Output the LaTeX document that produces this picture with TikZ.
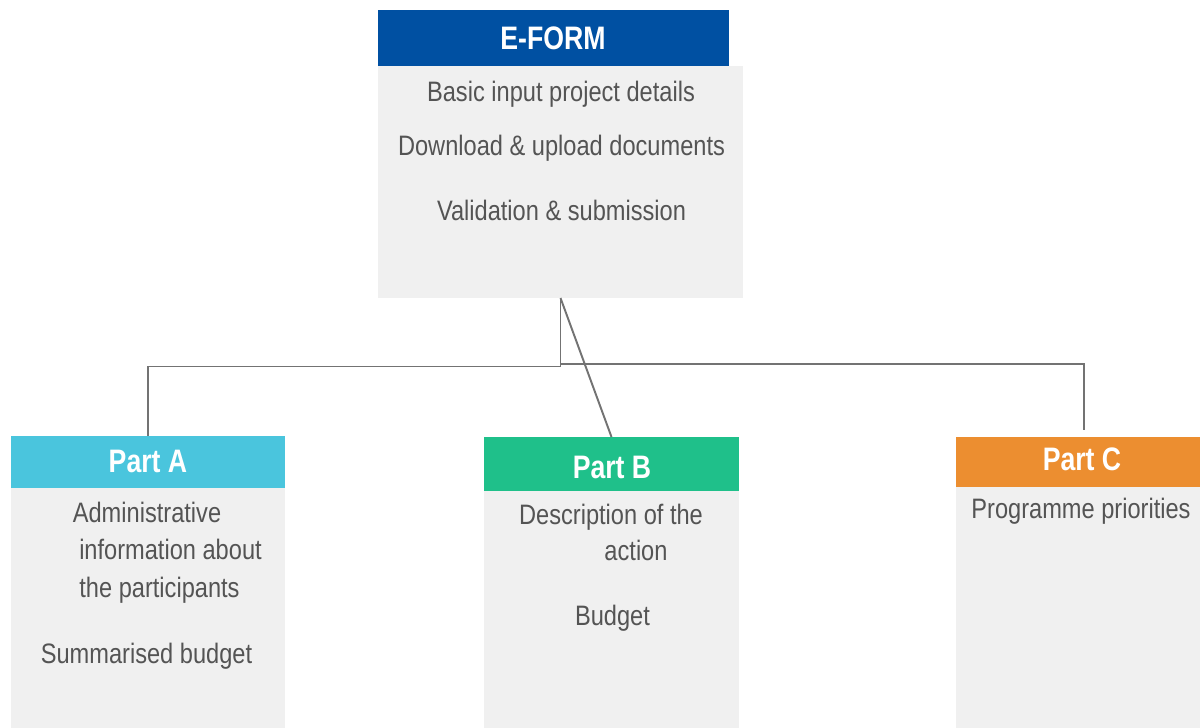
\documentclass[tikz,border=0pt]{standalone}
\usepackage{fontspec}
\setmainfont{Liberation Sans}
\newfontfamily\bodyfont[FakeStretch=0.84]{Liberation Sans}
\newfontfamily\headfont[FakeStretch=0.82]{Liberation Sans Bold}
\usetikzlibrary{calc}

\definecolor{eblue}{RGB}{0,80,162}
\definecolor{acyan}{RGB}{74,197,221}
\definecolor{bgreen}{RGB}{31,192,138}
\definecolor{corange}{RGB}{236,142,48}
\definecolor{boxgray}{RGB}{240,240,240}
\definecolor{txtgray}{RGB}{84,84,84}
\definecolor{linegray}{RGB}{115,115,115}

\tikzset{
	hdr/.style={inner sep=0pt, outer sep=0pt},
	bodybox/.style={fill=boxgray, inner sep=0pt, outer sep=0pt},
	htxt/.style={anchor=base, inner sep=0pt, text=white, font=\headfont\fontsize{18.5}{20}\selectfont},
	txt/.style={anchor=base, inner sep=0pt, text=txtgray, font=\bodyfont\fontsize{16}{18}\selectfont},
	conn/.style={draw=linegray, line width=1.1pt}
}

\begin{document}
\begin{tikzpicture}
		
		\useasboundingbox (0,0) rectangle (24,-14.56);
		
		\node[bodybox, minimum width=7.30cm, minimum height=4.64cm] (eformbody) at (11.21,-3.64) {};
		\node[hdr, fill=eblue, minimum width=7.02cm, minimum height=1.12cm] (eform) at (11.07,-0.76) {};
		\node[htxt] (eformtitle) at (11.06,-1.0) {E-FORM};
		\node[txt] (basic) at (11.22,-2.04) {Basic input project details};
		\node[txt] (download) at (11.23,-3.12) {Download \& upload documents};
		\node[txt] (valid) at (11.23,-4.42) {Validation \& submission};
		
		\node[bodybox, minimum width=5.48cm, minimum height=5cm] (partabody) at (2.96,-12.26) {};
		\node[hdr, fill=acyan, minimum width=5.48cm, minimum height=1.04cm] (parta) at (2.96,-9.24) {};
		\node[htxt] (partatitle) at (2.96,-9.44) {Part A};
		\node[txt] (admin) at (2.94,-10.45) {Administrative};
		\node[txt] (info) at (3.41,-11.18) {information about};
		\node[txt] (partic) at (3.19,-11.94) {the participants};
		\node[txt] (sumbudget) at (2.93,-13.26) {Summarised budget};
		
		\node[bodybox, minimum width=5.10cm, minimum height=5cm] (partbbody) at (12.23,-12.32) {};
		\node[hdr, fill=bgreen, minimum width=5.10cm, minimum height=1.08cm] (partb) at (12.23,-9.28) {};
		\node[htxt] (partbtitle) at (12.24,-9.56) {Part B};
		\node[txt] (descr) at (12.22,-10.48) {Description of the};
		\node[txt] (action) at (12.72,-11.20) {action};
		\node[txt] (budget) at (12.25,-12.50) {Budget};
		
		\node[bodybox, minimum width=5.12cm, minimum height=5cm] (partcbody) at (21.68,-12.24) {};
		\node[hdr, fill=corange, minimum width=5.12cm, minimum height=1.0cm] (partc) at (21.68,-9.24) {};
		\node[htxt] (partctitle) at (21.64,-9.40) {Part C};
		\node[txt] (prio) at (21.62,-10.36) {Programme priorities};
		
		\coordinate (busl) at (11.21,-7.33);
		\coordinate (busr) at (11.21,-7.28);
		
		\draw[conn] (eformbody.south) -- (busl) -| (parta.north);
		\draw[conn] (busr) -| ([yshift=0.14cm]partc.north);
		\draw[conn] (eformbody.south) -- (partb.north);
		
	\end{tikzpicture}
\end{document}
